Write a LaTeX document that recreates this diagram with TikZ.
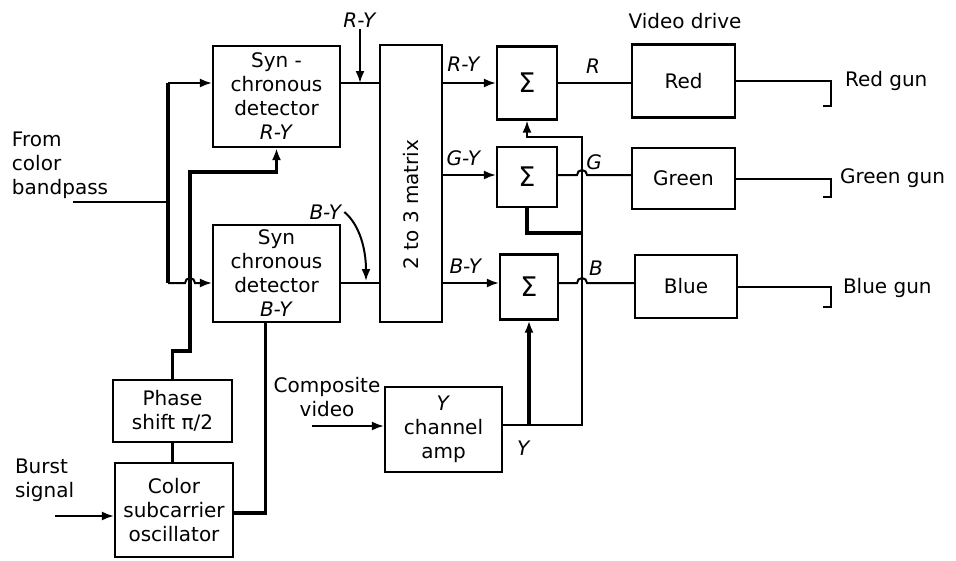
\documentclass[tikz,border=0pt]{standalone}
\usepackage{fontspec}
\setmainfont{DejaVu Sans}
\usetikzlibrary{arrows.meta,calc,positioning}

\begin{document}
\begin{tikzpicture}[>={Latex[length=12pt,width=9pt]},x=1pt,y=-1pt,line width=2pt,
    every node/.style={font=\fontsize{20}{24}\selectfont,inner sep=1pt},
    blk/.style={draw,line width=2.2pt,inner sep=0pt,align=center},
    sigma/.style={blk,font=\fontsize{27}{28}\selectfont},
    heavy/.style={line width=3.4pt}]
    \useasboundingbox (0,0) rectangle (956,560);
    \coordinate (rR) at (0,83);
    \coordinate (rG) at (0,175);
    \coordinate (rB) at (0,283);

    \node[blk,minimum width=127pt,minimum height=101pt] (detR) at (276.5,96.5) {Syn -\\chronous\\detector\\\textit{R-Y}};
    \node[blk,minimum width=127pt,minimum height=97pt] (detB) at (276.5,273.5) {Syn\\chronous\\detector\\\textit{B-Y}};
    \node[blk,minimum width=62pt,minimum height=277pt] (mtx) at (411,183.5) {};
    \node[rotate=90] (mtxlbl) at ([yshift=-21pt]mtx.center) {2 to 3 matrix};
    \node[sigma,minimum width=60pt,minimum height=73pt] (sumR) at (527,83) {Σ};
    \node[sigma,minimum width=60pt,minimum height=60pt] (sumG) at (527,177) {Σ};
    \node[sigma,minimum width=58pt,minimum height=65pt] (sumB) at (529,287) {Σ};
    \node[blk,minimum width=103pt,minimum height=73pt] (red) at (683.5,81) {Red};
    \node[blk,minimum width=103pt,minimum height=61pt] (green) at (683.5,178.5) {Green};
    \node[blk,minimum width=102pt,minimum height=63pt] (blue) at (686,286.5) {Blue};
    \node[blk,minimum width=119pt,minimum height=62pt] (phase) at (172.5,411) {Phase\\shift π/2};
    \node[blk,minimum width=118pt,minimum height=94pt] (osc) at (174,510) {Color\\subcarrier\\oscillator};
    \node[blk,minimum width=117pt,minimum height=85pt] (yamp) at (443.5,429.5) {\textit{Y}\\channel\\amp};

    \node[align=left,anchor=west] (bp) at (10,165) {From\\color\\bandpass};
    \node[align=left,anchor=west] (burst) at (13,480) {Burst\\signal};
    \node[align=center] (comp) at (327,397) {Composite\\video};
    \node (vd) at (685,21) {Video drive};
    \node[anchor=west] (gunRl) at (843,81) {Red gun};
    \node[anchor=west] (gunGl) at (838,178) {Green gun};
    \node[anchor=west] (gunBl) at (841,288) {Blue gun};

    \coordinate (bpin) at (73,202);
    \coordinate (bpj) at (168,202);
    \draw (bpin) -- (bpj);
    \draw[heavy] (bpj |- rR) -- (bpj |- rB);
    \draw[->] (bpj |- rR) -- (detR.west |- rR);
    \draw[->] (bpj |- rB) -- (185,283) arc[start angle=180,end angle=0,radius=5pt] -- (detB.west |- rB);
    \draw[heavy,->] (phase.north) -- ++(0,-28) -| (190,172) -| (detR.south);
    \draw[heavy] (phase.south) -- (phase.south |- osc.north);
    \draw[heavy] ([yshift=-3pt]osc.east) -| ([xshift=-11pt]detB.south);

    \coordinate (bsin) at (55,516);
    \draw[->] (bsin) -- (bsin -| osc.west);
    \coordinate (cvin) at (312,426);
    \draw[->] (cvin) -- (cvin -| yamp.west);

    \draw (detR.east |- rR) -- (mtx.west |- rR);
    \draw (detB.east |- rB) -- (mtx.west |- rB);
    \node (dR) at (360,20) {\textit{R-Y}};
    \draw[->] (dR.south) -- (dR.south |- rR);
    \node (dB) at (326,212) {\textit{B-Y}};
    \draw[->] (dB.east) .. controls (360,225) and (366,250) .. (366,281);

    \draw[->] (mtx.east |- rR) -- (sumR.west |- rR);
    \draw[->] (mtx.east |- rG) -- (sumG.west |- rG);
    \draw[->] (mtx.east |- rB) -- (sumB.west |- rB);
    \node (mR) at (464,64) {\textit{R-Y}};
    \node (mG) at (464,158) {\textit{G-Y}};
    \node (mB) at (466,266) {\textit{B-Y}};

    \coordinate (yj) at (582,425);
    \coordinate (yt) at (582,137);
    \draw[->] (yamp.east |- yj) -- (yj) -- (yt) -| (sumR.south);
    \draw[->,line width=4.5pt] (sumB.south |- yj) -- (sumB.south);
    \draw[heavy] (sumG.south) |- (yj |- 0,233);
    \node (lY) at (524,448) {\textit{Y}};

    \draw (sumR.east |- rR) -- (red.west |- rR);
    \draw (sumG.east |- rG) -- (577,175) arc[start angle=180,end angle=0,radius=5pt] -- (green.west |- rG);
    \draw (sumB.east |- rB) -- (577,283) arc[start angle=180,end angle=0,radius=5pt] -- (blue.west |- rB);
    \node (lR) at (593,66) {\textit{R}};
    \node (lG) at (594,162) {\textit{G}};
    \node (lB) at (596,268) {\textit{B}};

    \draw (red.east) -- ++(95,0) -- ++(0,25) -- ++(-8,0);
    \draw (green.east) -- ++(95,0) -- ++(0,18) -- ++(-8,0);
    \draw (blue.east) -- ++(93,0) -- ++(0,20) -- ++(-8,0);
\end{tikzpicture}
\end{document}
